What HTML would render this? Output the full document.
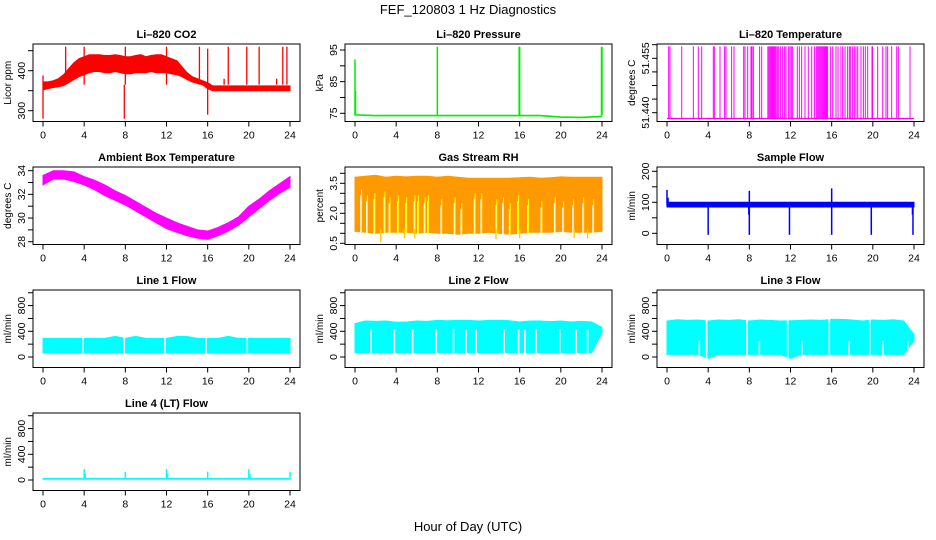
<!DOCTYPE html>
<html><head><meta charset="utf-8"><style>
html,body{margin:0;padding:0;background:#fff;}
svg{display:block;font-family:"Liberation Sans",sans-serif;}
</style></head><body>
<svg id="c" width="936" height="540" viewBox="0 0 936 540" xmlns="http://www.w3.org/2000/svg">
<text x="468" y="14" text-anchor="middle" font-size="13">FEF_120803  1 Hz Diagnostics</text>
<text x="468" y="531" text-anchor="middle" font-size="13">Hour of Day (UTC)</text>
</svg>
<script>
// ---- data ----
const hours = [0,4,8,12,16,20,24];
const co2Hours = [0,.5,1,1.5,2,2.5,3,3.5,4,4.5,5,5.5,6,6.5,7,7.5,8,8.5,9,9.5,10,10.5,11,11.5,12,12.5,13,13.5,14,14.5,15,15.5,16,16.5,17,17.5,18,18.5,19,19.5,20,20.5,21,21.5,22,22.5,23,23.5,24];
const co2Hi = [372,372,375,380,390,405,420,430,435,440,440,440,438,438,440,438,435,435,438,440,435,438,440,440,435,430,425,410,395,385,380,375,370,362,362,362,362,362,362,362,362,362,362,362,362,362,362,362,362];
const co2Lo = [352,355,358,360,363,370,378,385,390,395,398,398,395,395,398,395,392,392,395,395,395,398,395,395,395,392,390,385,378,372,368,365,355,350,350,350,350,350,350,350,350,350,350,350,350,350,350,350,350];
const co2Spikes = [[0,388],[0,280],[2.2,460],[4,460],[7.9,280],[8,460],[12,460],[15.2,460],[16,290],[16,455],[17.6,380],[18,460],[19.8,460],[21,460],[22.7,380],[23.3,460],[23.7,460]];
const presHours = [0,2,4,6,8,10,12,14,16,18,20,22,24];
const presBase = [74.5,74.3,74.3,74.3,74.3,74.3,74.3,74.3,74.3,74.3,73.8,73.7,74.0];
const presSpikes = [[0,92],[0.05,82],[8,96],[15.95,96],[16,96],[23.95,96],[24,96]];
const tempBase = 51.4384;
const tempTop = 51.4583;
const tempSpikes = [0.16,0.29,1.43,2.56,3.04,3.37,4.5,4.6,5.15,5.6,5.73,6.28,6.51,7.45,7.58,7.84,8.16,8.26,8.39,9.0,9.2,9.8,9.9,10.0,10.1,10.2,10.3,10.4,10.5,10.6,10.72,10.85,11.04,11.24,11.43,11.56,11.82,11.95,12.08,12.21,12.66,12.86,13.08,13.41,13.73,14.06,14.32,14.5,14.6,14.7,14.8,14.9,15.0,15.1,15.2,15.3,15.4,15.5,15.6,15.9,16.1,16.42,16.62,16.9,17.07,17.3,17.55,17.72,17.85,18.04,18.2,18.36,18.53,18.85,19.08,19.27,19.5,19.92,19.98,20.47,20.96,21.28,21.44,21.83,22.32,22.48,23.61];
const hourly = [0,1,2,3,4,5,6,7,8,9,10,11,12,13,14,15,16,17,18,19,20,21,22,23,24];
const ambHi = [33.6,34.0,34.0,33.9,33.5,33.2,32.8,32.3,31.9,31.4,30.9,30.4,30.0,29.6,29.3,29.0,28.9,29.2,29.6,30.1,31.0,31.6,32.3,32.9,33.5];
const ambLo = [32.8,33.3,33.3,33.1,32.8,32.4,31.9,31.5,31.1,30.6,30.1,29.6,29.1,28.8,28.5,28.3,28.2,28.5,28.9,29.4,30.1,30.8,31.5,32.1,32.6];
const rhHi = [3.8,3.85,3.9,3.8,3.85,3.82,3.85,3.85,3.8,3.85,3.8,3.75,3.75,3.75,3.75,3.75,3.78,3.8,3.75,3.78,3.82,3.8,3.8,3.8,3.8];
const rhLo = [1.1,1.05,1.0,1.05,1.05,1.05,1.0,1.05,1.0,1.0,0.95,1.0,1.0,1.05,1.0,0.95,1.0,1.05,1.05,1.05,1.1,1.05,1.05,1.05,1.1];
const rhGaps = [[0.58,2.9],[1.14,2.6],[1.87,2.7],[2.85,2.8],[3.34,2.5],[4.15,2.6],[4.96,2.5],[5.77,2.6],[6.1,2.6],[6.75,2.5],[7.07,2.6],[8.37,2.4],[9.67,2.5],[10.32,2.2],[11.61,2.7],[12.26,2.7],[13.72,2.4],[14.37,2.5],[15.02,2.2],[15.83,2.6],[16.8,2.4],[18.1,2.3],[19.4,2.5],[20.21,2.3],[21.18,2.4],[22.16,2.5],[23.13,2.4]];
const rhDips = [[2.5,0.55],[4.8,0.75],[5.8,0.75],[13.7,0.7],[16.0,0.75],[21.3,0.75],[22.6,0.75]];
const sfHours = [0,24];
const sfHi = [100,100];
const sfLo = [85,85];
const sfSpikes = [[0,140],[0.1,115],[4,-5],[7.95,60],[8,137],[8,-5],[11.9,-5],[16,145],[16,-5],[19.85,-5],[23.85,60],[23.9,-5]];
const l1Hi = [290,290,290,290,290,290,290,320,290,320,290,290,290,320,320,290,290,290,320,290,290,290,290,290,290];
const l1Lo = [60,60,60,60,60,60,60,60,60,60,60,60,60,60,60,60,60,60,60,60,60,60,60,60,60];
const l1Gaps = [[3.9,0],[7.9,0],[11.85,0],[15.85,0],[19.85,0]];
const l2Hi = [520,560,555,560,540,545,560,555,570,565,570,570,560,570,570,565,545,560,560,550,560,545,555,545,460];
const l2Lo = [70,70,70,70,70,70,70,70,70,70,70,70,70,70,70,70,70,70,70,70,70,70,70,70,380];
const l2Gaps = [[1.56,430],[3.83,430],[5.6,430],[7.9,430],[9.57,430],[10.8,430],[11.78,430],[14.5,430],[15.9,430],[16.5,430],[17.6,430],[19.9,430],[21.5,430],[22.6,430]];
const l3Hi = [560,580,570,575,560,575,570,580,560,575,570,560,565,570,575,570,585,585,575,560,575,570,580,560,350];
const l3Lo = [40,40,40,40,-20,40,40,40,40,40,40,40,-20,40,40,40,40,40,40,40,40,40,40,40,250];
const l3Gaps = [[3.14,250],[3.85,0],[7.77,0],[8.97,250],[11.72,0],[13.1,250],[15.77,0],[17.7,250],[19.7,0],[21.0,250],[23.4,250]];
const l4Hours = [0,24];
const l4Hi = [25,25];
const l4Lo = [12,12];
const l4Spikes = [[4,170],[4.1,100],[8,130],[12,170],[12.1,100],[16,130],[20,170],[20.1,100],[24,130]];

// ---- layout ----
const svg = document.getElementById('c');
const NS = 'http://www.w3.org/2000/svg';
const rowTop = [44,167,290,413];
const BOXH = 77.5;
function mk(tag, attrs, parent){
  const e = document.createElementNS(NS, tag);
  for (const k in attrs) e.setAttribute(k, attrs[k]);
  (parent||svg).appendChild(e);
  return e;
}
function panel(name, title, ylab, col, row, ymin, ymax, ylo, yhi, ticks, labels){
  const bx = 33 + 312*col, by = rowTop[row], bw = 267;
  const g = mk('g', {});
  
  
  const sx = h => 43 + 312*col + h*247/24;
  const sy = v => ylo + (v - ymin)/(ymax - ymin)*(yhi - ylo);
  const cid = 'clip-' + name;
  const cp = mk('clipPath', {id: cid}, g);
  mk('rect', {x: bx, y: by, width: bw, height: BOXH}, cp);
  const plot = mk('g', {'clip-path': 'url(#' + cid + ')'}, g);
  
  
  const box = mk('rect', {x: bx, y: by, width: bw, height: BOXH, fill: 'none', stroke: '#000', 'stroke-width': 1}, g);
  
  
  const t = mk('text', {x: bx + bw/2, y: by - 6, 'text-anchor': 'middle', 'font-size': 11, 'font-weight': 'bold'}, g);
  t.textContent = title;
  
  
  const yl = mk('text', {x: 0, y: 0, 'text-anchor': 'middle', 'font-size': 10, transform: 'translate(' + (bx - 22) + ',' + (by + BOXH/2) + ') rotate(-90)'}, g);
  yl.textContent = ylab;
  
  
  const xa = mk('g', {}, g);
  
  
  const xb = by + BOXH;
  mk('line', {x1: sx(0), x2: sx(24), y1: xb, y2: xb, stroke: '#000'}, xa);
  hours.forEach(h => {
    mk('line', {x1: sx(h), x2: sx(h), y1: xb, y2: xb + 5, stroke: '#000'}, xa);
    const tl = mk('text', {x: sx(h), y: xb + 17, 'text-anchor': 'middle', 'font-size': 10.5}, xa);
    tl.textContent = h;
    
    
  });
  const ya = mk('g', {}, g);
  
  
  mk('line', {x1: bx, x2: bx, y1: sy(ticks[0]), y2: sy(ticks[ticks.length-1]), stroke: '#000'}, ya);
  ticks.forEach(v => mk('line', {x1: bx - 5, x2: bx, y1: sy(v), y2: sy(v), stroke: '#000'}, ya));
  labels.forEach(v => {
    const yt = mk('text', {x: 0, y: 0, 'text-anchor': 'middle', 'font-size': 10.5, transform: 'translate(' + (bx - 8) + ',' + sy(v[0]) + ') rotate(-90)'}, ya);
    yt.textContent = v[1];
    
    
  });
  return {plot, sx, sy, bx, by};
}
function band(p, xs, hi, lo, fill, name){
  let d = 'M' + xs.map((h,i) => p.sx(h) + ',' + p.sy(hi[i])).join('L');
  for (let i = xs.length - 1; i >= 0; i--) d += 'L' + p.sx(xs[i]) + ',' + p.sy(lo[i]);
  const e = mk('path', {d: d + 'Z', fill: fill, stroke: fill, 'stroke-width': 1}, p.plot);
  
  
}
function vline(p, h, v0, v1, color, w, name){
  const e = mk('line', {x1: p.sx(h), x2: p.sx(h), y1: p.sy(v0), y2: p.sy(v1), stroke: color, 'stroke-width': w}, p.plot);
  
  
}

const pc = panel('co2', 'Li\u2013820 CO2', 'Licor ppm', 0, 0, 300, 400, 110.7, 70.7, [300,350,400,450], [[300,'300'],[400,'400']]);
band(pc, co2Hours, co2Hi, co2Lo, '#ff0000', 'co2-band');
co2Spikes.forEach(s => vline(pc, s[0], 365, s[1], '#ff0000', 1.3, 'co2-spike'));

const pp = panel('pressure', 'Li\u2013820 Pressure', 'kPa', 1, 0, 75, 95, 113.3, 50, [75,80,85,90,95], [[75,'75'],[85,'85'],[95,'95']]);
const pl = mk('polyline', {points: presHours.map((h,i) => pp.sx(h) + ',' + pp.sy(presBase[i])).join(' '), fill: 'none', stroke: '#00ee00', 'stroke-width': 1.6}, pp.plot);


presSpikes.forEach(s => vline(pp, s[0], 74.3, s[1], '#00ee00', 1.5, 'pressure-spike'));

const pt = panel('li820-temp', 'Li\u2013820 Temperature', 'degrees C', 2, 0, 51.44, 51.455, 112.7, 58.3, [51.44,51.44375,51.4475,51.45125,51.455,51.45875], [[51.44,'51.440'],[51.455,'51.455']]);
const tb = mk('line', {x1: pt.sx(0), x2: pt.sx(24), y1: pt.sy(tempBase), y2: pt.sy(tempBase), stroke: '#ff00ff', 'stroke-width': 1.3}, pt.plot);


tempSpikes.forEach(h => vline(pt, h, tempBase, tempTop, '#ff00ff', 1, 'temp-spike'));

const pa = panel('ambient', 'Ambient Box Temperature', 'degrees C', 0, 1, 28, 34, 241.7, 170.7, [28,29,30,31,32,33,34], [[28,'28'],[30,'30'],[32,'32'],[34,'34']]);
band(pa, hourly, ambHi, ambLo, '#ff00ff', 'ambient-band');

const pr = panel('rh', 'Gas Stream RH', 'percent', 1, 1, 0.5, 4.0, 243.3, 173.3, [0.5,1,1.5,2,2.5,3,3.5,4], [[0.5,'0.5'],[2.0,'2.0'],[3.5,'3.5']]);
band(pr, hourly, rhHi, rhLo, '#ff9900', 'rh-band');
rhGaps.forEach(s => vline(pr, s[0], 0.8, s[1], '#ffffff', 1.5, 'rh-gap'));
rhGaps.forEach(s => vline(pr, s[0] + 0.06, 1.0, s[1] + 0.3, '#ffff00', 1, 'rh-gap-edge'));
rhDips.forEach(s => vline(pr, s[0], 1.2, s[1], '#ffcc00', 1.3, 'rh-dip'));

const ps = panel('sample-flow', 'Sample Flow', 'ml/min', 2, 1, 0, 200, 233.3, 171.3, [0,50,100,150,200], [[0,'0'],[100,'100'],[200,'200']]);
band(ps, sfHours, sfHi, sfLo, '#0000ff', 'sample-flow-band');
sfSpikes.forEach(s => vline(ps, s[0], 92, s[1], '#0000ff', 1.5, 'sample-flow-spike'));

const flowTicks = [0,200,400,600,800,1000];
const flowLabels = [[0,'0'],[400,'400'],[800,'800']];
function flowPanel(name, title, col, row, hi, lo, gaps){
  const y0 = rowTop[row] + 67;
  const p = panel(name, title, 'ml/min', col, row, 0, 400, y0, y0 - 25.7, flowTicks, flowLabels);
  band(p, hourly, hi, lo, '#00ffff', name + '-band');
  gaps.forEach(s => vline(p, s[0], -30, s[1] > 0 ? s[1] : 700, '#ffffff', 1.6, name + '-gap'));
  return p;
}
flowPanel('line1-flow', 'Line 1 Flow', 0, 2, l1Hi, l1Lo, l1Gaps);
flowPanel('line2-flow', 'Line 2 Flow', 1, 2, l2Hi, l2Lo, l2Gaps);
flowPanel('line3-flow', 'Line 3 Flow', 2, 2, l3Hi, l3Lo, l3Gaps);
const p4 = panel('line4-flow', 'Line 4 (LT) Flow', 'ml/min', 0, 3, 0, 400, 480, 454.3, flowTicks, flowLabels);
band(p4, l4Hours, l4Hi, l4Lo, '#00ffff', 'line4-flow-band');
l4Spikes.forEach(s => vline(p4, s[0], 20, s[1], '#00ffff', 1.5, 'line4-flow-spike'));
</script>
</body></html>
